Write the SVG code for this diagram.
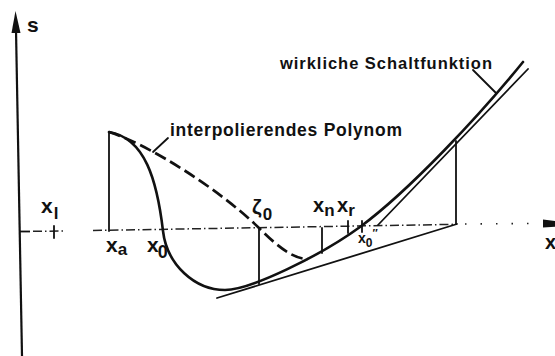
<svg xmlns="http://www.w3.org/2000/svg" width="555" height="356" viewBox="0 0 555 356">
<style>
.lbl{font-family:"Liberation Sans",Arial,sans-serif;font-weight:bold;fill:#111}
.thick{fill:none;stroke:#111;stroke-width:2.6;stroke-linecap:round;stroke-linejoin:round}
.thin{fill:none;stroke:#111;stroke-width:1.8;stroke-linecap:round}
.dash{fill:none;stroke:#111;stroke-width:2.7;stroke-dasharray:12 5}
.axis{fill:none;stroke:#222;stroke-width:1.5;stroke-dasharray:9 3 1.5 3}
</style>
<rect width="555" height="356" fill="#fff"/>
<g id="axes">
<line x1="16" y1="30" x2="22" y2="356" stroke="#111" stroke-width="2.2"/>
<polygon points="15.5,11 11.5,33 20.5,33" fill="#111"/>
<line x1="19" y1="231.5" x2="30" y2="231.5" stroke="#111" stroke-width="1.8"/>
<line x1="33" y1="231.3" x2="63" y2="231" class="axis"/>
<line x1="93" y1="230.5" x2="457" y2="224.3" class="axis"/>
<line x1="465" y1="224" x2="535" y2="223.5" stroke="#222" stroke-width="1.6" stroke-dasharray="1.5 14"/>
<polygon points="543,219.5 560,221.5 560,226.5 543,227.5" fill="#111"/>
<text class="lbl" x="27" y="32" font-size="21">s</text>
<text class="lbl" x="545" y="249" font-size="20">x</text>
</g>
<g id="connectors">
<path class="thick" d="M109,132 C145,138 157,180 163,231 C167,265 195,290 225,290 C250,290 320,256 360,227 C410,190 480,115 523,62"/>
<path class="dash" d="M109,132 C150,145 220,190 259,228 C275,244 292,259 308,259"/>
<line class="thin" x1="217" y1="298" x2="457" y2="224"/>
<line class="thin" x1="378" y1="225" x2="528" y2="69" stroke-width="1.6"/>
<line class="thin" x1="109" y1="132" x2="109" y2="231"/>
<line class="thin" x1="259" y1="228" x2="259" y2="284"/>
<line class="thin" x1="322" y1="228" x2="322" y2="253"/>
<line class="thin" x1="456" y1="141" x2="456" y2="224"/>
<line class="thin" x1="54" y1="226" x2="54" y2="238" stroke-width="1.5"/>
<line class="thin" x1="348" y1="221" x2="348" y2="233" stroke-width="1.5"/>
<line class="thin" x1="362" y1="221" x2="362" y2="232" stroke-width="1.5"/>
<line class="thin" x1="153" y1="152" x2="168" y2="138" stroke-width="1.6"/>
<line class="thin" x1="473" y1="70" x2="496" y2="93" stroke-width="1.6"/>
</g>
<g id="label-polynom">
<text class="lbl" x="170" y="136" font-size="17.5" textLength="232" lengthAdjust="spacing">interpolierendes Polynom</text>
</g>
<g id="label-schalt">
<text class="lbl" x="280" y="69" font-size="16.5" textLength="212" lengthAdjust="spacing">wirkliche Schaltfunktion</text>
</g>
<g id="label-xl"><text class="lbl" x="41" y="213" font-size="21">x<tspan font-size="17" dx="1" dy="6">l</tspan></text></g>
<g id="label-xa"><text class="lbl" x="106" y="252" font-size="21">x<tspan font-size="17" dx="0" dy="3">a</tspan></text></g>
<g id="label-x0"><text class="lbl" x="147" y="252" font-size="21">x<tspan font-size="18" dx="-1" dy="6">0</tspan></text></g>
<g id="label-zeta"><text class="lbl" x="252" y="214" font-size="21">ζ<tspan font-size="17" dx="1" dy="6">0</tspan></text></g>
<g id="label-xn"><text class="lbl" x="313" y="212" font-size="20">x<tspan font-size="17" dx="0" dy="4">n</tspan></text></g>
<g id="label-xr"><text class="lbl" x="337" y="212" font-size="20">x<tspan font-size="17" dx="0" dy="4">r</tspan></text></g>
<g id="label-x0pp"><text class="lbl" x="358" y="243" font-size="14">x<tspan font-size="12" dy="4">0</tspan><tspan font-size="11" dy="-10">″</tspan></text></g>
</svg>
